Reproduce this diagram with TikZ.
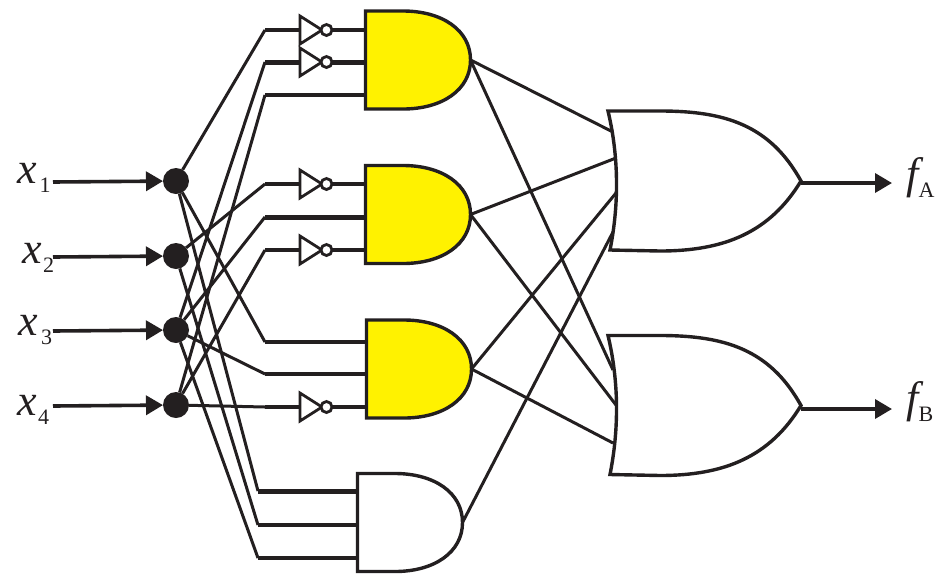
\documentclass[tikz,border=0pt]{standalone}
\usepackage{fontspec}
\setmainfont{Liberation Serif}
\usetikzlibrary{arrows.meta}

\definecolor{ink}{HTML}{231F20}
\definecolor{gateyellow}{HTML}{FFF200}

\newcommand{\iolabel}[3][2pt]{{\fontsize{44pt}{44pt}\selectfont\itshape #2}\kern#1\raisebox{-9pt}{\fontsize{22pt}{22pt}\selectfont #3}}

\tikzset{
  wire/.style={ink, line width=3pt},
  stub/.style={ink, line width=4pt},
  fatstub/.style={ink, line width=5pt},
  signal/.style={ink, line width=3.6pt, -{Triangle[length=17pt,width=19pt]}},
  outline/.style={draw=ink, line width=3.4pt, line join=miter},
  dot/.style={circle, fill=ink, minimum size=26pt, inner sep=0pt, outer sep=0pt},
  iolab/.style={anchor=base west, inner sep=0pt, outer sep=0pt, text=ink},
  andgate/.style={minimum width=105pt, minimum height=98pt, inner sep=0pt, outer sep=0pt,
    append after command={\pgfextra{
      \draw[outline, fill=#1, shift={(\tikzlastnode.center)}]
        (-52.5,-49) -- (-15,-49) .. controls (24,-49) and (52.5,-30) .. (52.5,0)
        .. controls (52.5,30) and (24,49) .. (-15,49) -- (-52.5,49) -- cycle;
    }}},
  orgate/.style={minimum width=193pt, minimum height=140pt, inner sep=0pt, outer sep=0pt,
    append after command={\pgfextra{
      \draw[outline, shift={(\tikzlastnode.center)}]
        (-96.5,-70) -- (-44.5,-70) .. controls (20.5,-70) and (65.5,-56) .. (96.5,0)
        .. controls (65.5,51) and (20.5,70) .. (-44.5,70) -- (-94.5,69)
        .. controls (-85.5,24) and (-85.5,-24) .. (-96.5,-70) -- cycle;
    }}},
  notgate/.style={minimum width=32pt, minimum height=28pt, inner sep=0pt, outer sep=0pt,
    append after command={\pgfextra{
      \draw[outline, line width=2.8pt, shift={(\tikzlastnode.center)}]
        (-16,-14) -- (6,0) -- (-16,14) -- cycle;
      \draw[outline, line width=2.8pt, fill=white, shift={(\tikzlastnode.center)}]
        (10.5,0) circle[radius=5.5pt];
    }}}
}

\begin{document}
\begin{tikzpicture}[x=1pt, y=-1pt]
  \useasboundingbox (0,0) rectangle (945,574);

  % Define input dots
  \node[dot] (D1) at (176,181) {};
  \node[dot] (D2) at (176,256) {};
  \node[dot] (D3) at (176,330) {};
  \node[dot] (D4) at (176,405) {};

  % Define gates
  \node[andgate=gateyellow] (G1) at (418,60) {};
  \node[andgate=gateyellow] (G2) at (418,214.5) {};
  \node[andgate=gateyellow] (G3) at (419,369) {};
  \node[andgate=white] (G4) at (410,522.5) {};
  \node[orgate] (ORA) at (704.5,181) {};
  \node[orgate] (ORB) at (704.5,405.5) {};

  % Define inverters
  \node[notgate] (N1) at (316,30) {};
  \node[notgate] (N2) at (316,62) {};
  \node[notgate] (N3) at (316,184) {};
  \node[notgate] (N4) at (316,250) {};
  \node[notgate] (N5) at (316,407) {};

  % Define labels
  \node[iolab] (LX1) at (17,183) {\iolabel[3pt]{x}{1}};
  \node[iolab] (LX2) at (22,263) {\iolabel[1.5pt]{x}{2}};
  \node[iolab] (LX3) at (19,335) {\iolabel[2.5pt]{x}{3}};
  \node[iolab] (LX4) at (17,415) {\iolabel[1.5pt]{x}{4}};
  \node[iolab] (LFA) at (906.5,188) {\iolabel[0pt]{f}{A}};
  \node[iolab] (LFB) at (906.5,412) {\iolabel[0pt]{f}{B}};

  % Free ends and wire bends
  \coordinate (I1) at (53,182);
  \coordinate (I2) at (53,257);
  \coordinate (I3) at (53,331);
  \coordinate (I4) at (53,406);
  \coordinate (OA) at (892,183);
  \coordinate (OB) at (892,409);
  \coordinate (B1) at (265,30);
  \coordinate (B2) at (265,62);
  \coordinate (B3) at (265,95);
  \coordinate (B4) at (265,184);
  \coordinate (B5) at (265,217);
  \coordinate (B6) at (265,250);
  \coordinate (B7) at (265,342);
  \coordinate (B8) at (265,374);
  \coordinate (B9) at (265,407);
  \coordinate (B10) at (258,491);
  \coordinate (B11) at (258,525);
  \coordinate (B12) at (258,558);
  \coordinate (A1) at (613,132);
  \coordinate (A2) at (616,158);
  \coordinate (A3) at (616,193);
  \coordinate (A4) at (613,232);
  \coordinate (C1) at (613,370);
  \coordinate (C2) at (616,405);
  \coordinate (C3) at (613,443);

  % Draw inputs and outputs with arrows
  \draw[signal] (I1) -- (D1);
  \draw[signal] (I2) -- (D2);
  \draw[signal] (I3) -- (D3);
  \draw[signal] (I4) -- (D4);
  \draw[signal] (ORA.east |- OA) -- (OA);
  \draw[signal] (ORB.east |- OB) -- (OB);

  % Draw wires from the dots to the bends
  \draw[wire] (D1) -- (B1);
  \draw[wire] (D3) -- (B2);
  \draw[wire] (D4) -- (B3);
  \draw[wire] (D2) -- (B4);
  \draw[wire] (D3) -- (B5);
  \draw[wire] (D4) -- (B6);
  \draw[wire] (D1) -- (B7);
  \draw[wire] (D3) -- (B8);
  \draw[wire] (D4) -- (B9);
  \draw[wire] (D1) -- (B10);
  \draw[wire] (D2) -- (B11);
  \draw[wire] (D3) -- (B12);

  % Draw wires from the bends to the gates
  \draw[stub] (B1) -- (N1.west);
  \draw[stub] (N1.east) -- (G1.west |- N1.east);
  \draw[fatstub] (B2) -- (N2.west);
  \draw[fatstub] (N2.east) -- (G1.west |- N2.east);
  \draw[stub] (B3) -- (G1.west |- B3);
  \draw[stub] (B4) -- (N3.west);
  \draw[stub] (N3.east) -- (G2.west |- N3.east);
  \draw[fatstub] (B5) -- (G2.west |- B5);
  \draw[stub] (B6) -- (N4.west);
  \draw[stub] (N4.east) -- (G2.west |- N4.east);
  \draw[stub] (B7) -- (G3.west |- B7);
  \draw[stub] (B8) -- (G3.west |- B8);
  \draw[stub] (B9) -- (N5.west);
  \draw[stub] (N5.east) -- (G3.west |- N5.east);
  \draw[fatstub] (B10) -- (G4.west |- B10);
  \draw[stub] (B11) -- (G4.west |- B11);
  \draw[stub] (B12) -- (G4.west |- B12);

  % Draw wires into the two outer gates
  \draw[wire] (G1.east) -- (A1);
  \draw[wire] (G1.east) -- (C1);
  \draw[wire] (G2.east) -- (A2);
  \draw[wire] (G2.east) -- (C2);
  \draw[wire] (G3.east) -- (A3);
  \draw[wire] (G3.east) -- (C3);
  \draw[wire] (G4.east) -- (A4);
\end{tikzpicture}
\end{document}
